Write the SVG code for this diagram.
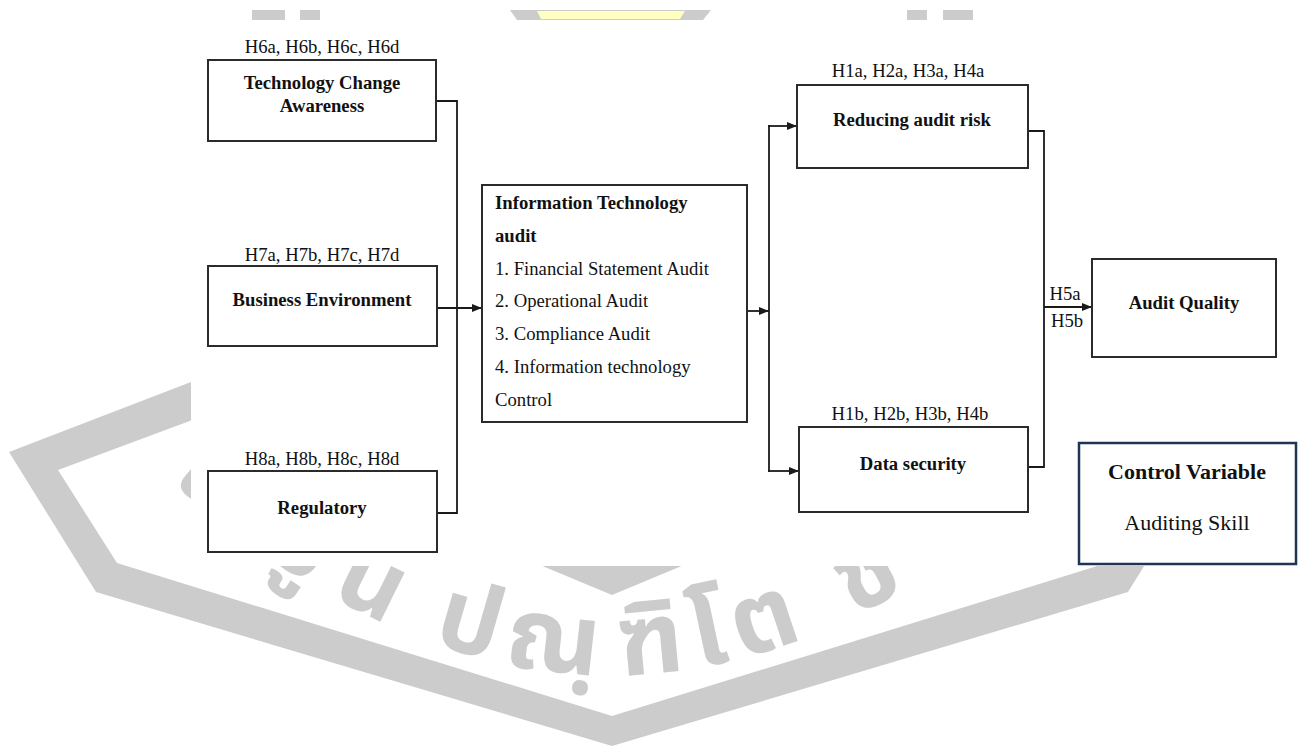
<svg xmlns="http://www.w3.org/2000/svg" width="1303" height="749" viewBox="0 0 1303 749">
<style>
.box{fill:#fff;stroke:#2b2b2b;stroke-width:2}
.cv{fill:#fff;stroke:#1f3556;stroke-width:2.5}
.t{font-family:"Liberation Serif","Times New Roman",serif;font-size:18.7px;fill:#111}
.b{font-weight:bold}
.m{text-anchor:middle}
.ln{fill:none;stroke:#1a1a1a;stroke-width:1.8}
.wm{fill:#cccccc}
.th{font-family:"Noto Sans Thai","Noto Sans","DejaVu Sans",sans-serif;font-size:100px;font-weight:bold;fill:#cccccc;letter-spacing:12px}
</style>
<defs>
<marker id="ah" markerUnits="userSpaceOnUse" markerWidth="10" markerHeight="8" refX="10" refY="4" orient="auto">
<path d="M0,0 L10,4 L0,8 z" fill="#1a1a1a"/>
</marker>
<path id="arc" d="M130,443 Q612,907 1094,443"/>
<clipPath id="wmclip">
<path clip-rule="evenodd" d="M0,0H1303V749H0Z M191,20H1303V566H191Z"/>
</clipPath>
</defs>
<g id="watermark" clip-path="url(#wmclip)">
<rect class="wm" x="252" y="10" width="33" height="10"/>
<rect class="wm" x="300" y="10" width="20" height="10"/>
<polygon class="wm" points="510,10 711,10 703,20 517,20"/>
<polygon fill="#ffffc0" points="537,11 685,11 680,19 541,19"/>
<rect class="wm" x="907" y="10" width="20" height="10"/>
<rect class="wm" x="943" y="10" width="30" height="10"/>
<polygon class="wm" points="300,340 9,452 96,592 612,746 1128,592 1215,452 924,340 924,380 1166,470 1107,563 612,716 117,563 58,470 300,380"/>
<polygon class="wm" points="480,520 612,562 744,520 744,540 612,595 480,540"/>
<text class="th"><textPath href="#arc" startOffset="55">ใ</textPath></text>
<text class="th"><textPath href="#arc" startOffset="140">ญู</textPath></text>
<text class="th"><textPath href="#arc" startOffset="252">น</textPath></text>
<text class="th"><textPath href="#arc" startOffset="364">ปณฺ</textPath></text>
<text class="th"><textPath href="#arc" startOffset="557">ฑิโต</textPath></text>
<text class="th"><textPath href="#arc" startOffset="800">ช</textPath></text>
</g>
<g id="connectors">
<polyline class="ln" points="436,101 457,101 457,513 437,513"/>
<line class="ln" x1="437" y1="308" x2="482" y2="308" marker-end="url(#ah)"/>
<line class="ln" x1="747" y1="311" x2="769" y2="311" marker-end="url(#ah)"/>
<line class="ln" x1="769" y1="125" x2="769" y2="472"/>
<line class="ln" x1="768" y1="126" x2="797" y2="126" marker-end="url(#ah)"/>
<line class="ln" x1="768" y1="471" x2="799" y2="471" marker-end="url(#ah)"/>
<polyline class="ln" points="1028,131 1044,131 1044,467 1028,467"/>
<line class="ln" x1="1044" y1="307" x2="1092" y2="307" marker-end="url(#ah)"/>
<text class="t m" x="1065" y="300">H5a</text>
<text class="t m" x="1067" y="327">H5b</text>
</g>
<g id="tca">
<text class="t m" x="322" y="53">H6a, H6b, H6c, H6d</text>
<rect class="box" x="208" y="60" width="228" height="81"/>
<text class="t b m" x="322" y="89">Technology Change</text>
<text class="t b m" x="322" y="112">Awareness</text>
</g>
<g id="be">
<text class="t m" x="322" y="261">H7a, H7b, H7c, H7d</text>
<rect class="box" x="208" y="266" width="229" height="80"/>
<text class="t b m" x="322" y="306">Business Environment</text>
</g>
<g id="reg">
<text class="t m" x="322" y="465">H8a, H8b, H8c, H8d</text>
<rect class="box" x="208" y="471" width="229" height="81"/>
<text class="t b m" x="322" y="514">Regulatory</text>
</g>
<g id="ita">
<rect class="box" x="482" y="185" width="265" height="237"/>
<text class="t b" x="495" y="209">Information Technology</text>
<text class="t b" x="495" y="242">audit</text>
<text class="t" x="495" y="275">1. Financial Statement Audit</text>
<text class="t" x="495" y="307">2. Operational Audit</text>
<text class="t" x="495" y="340">3. Compliance Audit</text>
<text class="t" x="495" y="373">4. Information technology</text>
<text class="t" x="495" y="406">Control</text>
</g>
<g id="rar">
<text class="t m" x="908" y="77">H1a, H2a, H3a, H4a</text>
<rect class="box" x="797" y="85" width="231" height="83"/>
<text class="t b m" x="912" y="126">Reducing audit risk</text>
</g>
<g id="ds">
<text class="t m" x="910" y="420">H1b, H2b, H3b, H4b</text>
<rect class="box" x="799" y="427" width="229" height="85"/>
<text class="t b m" x="913" y="470">Data security</text>
</g>
<g id="aq">
<rect class="box" x="1092" y="259" width="184" height="98"/>
<text class="t b m" x="1184" y="309">Audit Quality</text>
</g>
<g id="cv">
<rect class="cv" x="1079" y="443" width="217" height="121"/>
<text class="t b m" x="1187" y="479" style="font-size:22px">Control Variable</text>
<text class="t m" x="1187" y="530" style="font-size:22px">Auditing Skill</text>
</g>
</svg>
